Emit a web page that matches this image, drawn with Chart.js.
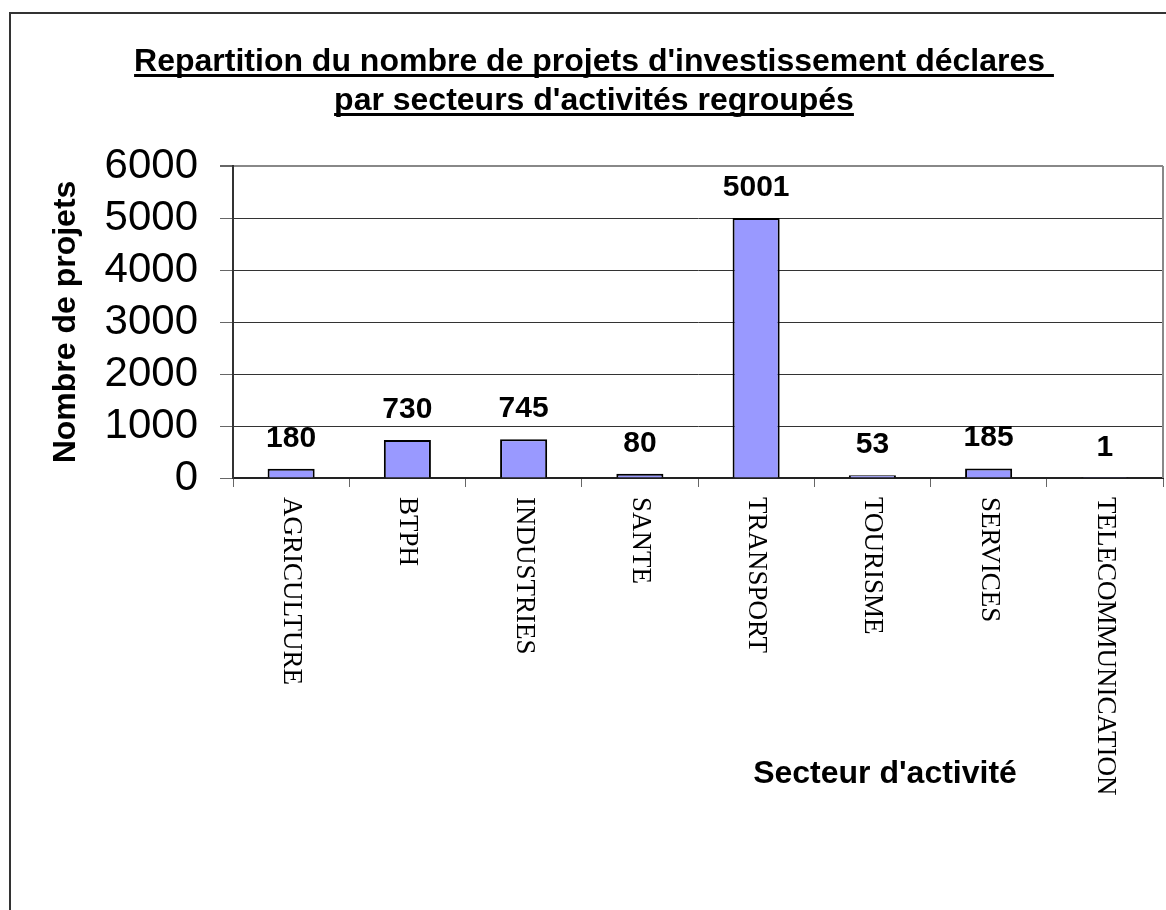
<!DOCTYPE html>
<html>
<head>
<meta charset="utf-8">
<script src="https://cdn.jsdelivr.net/npm/chart.js@4.4.1/dist/chart.umd.min.js"></script>
<style>
html,body{margin:0;padding:0;background:#fff;}
canvas{display:block;}
</style>
</head>
<body>
<canvas id="c" width="1166" height="910"></canvas>
<script>
const titleLines = ["Repartition du nombre de projets d'investissement déclares ", "par secteurs d'activités regroupés"];
const categories = ["AGRICULTURE", "BTPH", "INDUSTRIES", "SANTE", "TRANSPORT", "TOURISME", "SERVICES", "TELECOMMUNICATION"];
const projectCounts = [180, 730, 745, 80, 5001, 53, 185, 1];
const yAxisTitle = "Nombre de projets";
const xAxisTitle = "Secteur d'activité";
const yTickValues = [0, 1000, 2000, 3000, 4000, 5000, 6000];

const SANS = '"Liberation Sans", Arial, sans-serif';
const SERIF = '"Liberation Serif", "Times New Roman", serif';

const decorPlugin = {
  id: 'decor',
  beforeDraw(chart) {
    const ctx = chart.ctx;
    ctx.save();
    ctx.fillStyle = '#fff';
    ctx.fillRect(0, 0, chart.width, chart.height);
    ctx.strokeStyle = '#333';
    ctx.lineWidth = 2;
    ctx.beginPath();
    ctx.moveTo(10, chart.height);
    ctx.lineTo(10, 13);
    ctx.lineTo(chart.width, 13);
    ctx.stroke();
    ctx.restore();
  },
  afterDraw(chart) {
    const ctx = chart.ctx;
    const area = chart.chartArea;
    ctx.save();
    ctx.strokeStyle = '#888';
    ctx.lineWidth = 2;
    ctx.beginPath();
    ctx.moveTo(area.right, area.top);
    ctx.lineTo(area.right, area.bottom);
    ctx.stroke();

    // title
    ctx.fillStyle = '#000';
    ctx.font = 'bold 32px ' + SANS;
    ctx.textAlign = 'center';
    ctx.textBaseline = 'alphabetic';
    const cx = 594;
    const baselines = [71, 110];
    titleLines.forEach((t, i) => {
      ctx.fillText(t, cx, baselines[i]);
      const w = ctx.measureText(t).width;
      ctx.fillRect(cx - w / 2, baselines[i] + 3, w, 3);
    });

    // y axis title
    ctx.save();
    ctx.translate(66, (area.top + area.bottom) / 2);
    ctx.rotate(-Math.PI / 2);
    ctx.font = 'bold 32px ' + SANS;
    ctx.textAlign = 'center';
    ctx.textBaseline = 'middle';
    ctx.fillText(yAxisTitle, 0, 0);
    ctx.restore();

    // x category labels, rotated clockwise
    const xs = chart.scales.x;
    ctx.font = '27px ' + SERIF;
    ctx.textAlign = 'left';
    ctx.textBaseline = 'middle';
    categories.forEach((c, i) => {
      const x = xs.getPixelForValue(i);
      ctx.save();
      ctx.translate(x, xs.top + 19);
      ctx.rotate(Math.PI / 2);
      ctx.fillText(c, 0, 0);
      ctx.restore();
    });

    // x axis title
    ctx.font = 'bold 32px ' + SANS;
    ctx.textAlign = 'center';
    ctx.textBaseline = 'alphabetic';
    ctx.fillText(xAxisTitle, 885, 783);
    ctx.restore();
  },
  afterDatasetsDraw(chart) {
    const ctx = chart.ctx;
    const meta = chart.getDatasetMeta(0);
    ctx.save();
    ctx.fillStyle = '#000';
    ctx.font = 'bold 30px ' + SANS;
    ctx.textAlign = 'center';
    ctx.textBaseline = 'alphabetic';
    meta.data.forEach((bar, i) => {
      ctx.fillText(String(projectCounts[i]), bar.x, bar.y - 22);
    });
    ctx.restore();
  }
};

new Chart(document.getElementById('c'), {
  type: 'bar',
  data: {
    labels: categories,
    datasets: [{
      data: projectCounts,
      backgroundColor: '#9999FF',
      borderColor: '#000',
      borderWidth: 2,
      barPercentage: 0.405,
      categoryPercentage: 1
    }]
  },
  options: {
    responsive: false,
    animation: false,
    layout: { padding: { top: 166, left: 0, right: 3, bottom: 0 } },
    plugins: { legend: { display: false }, title: { display: false }, tooltip: { enabled: false } },
    scales: {
      x: {
        offset: true,
        ticks: { display: false },
        grid: { display: true, drawOnChartArea: false, drawTicks: true, tickLength: 9, tickColor: '#666', offset: true },
        border: { display: true, color: '#222', width: 2 },
        afterFit(scale) { scale.height = 432; }
      },
      y: {
        min: 0,
        max: 6000,
        afterBuildTicks(scale) { scale.ticks = yTickValues.map(v => ({ value: v })); },
        ticks: {
          autoSkip: false,
          font: { family: SANS, size: 42 },
          color: '#000',
          padding: 22,
          callback: (v) => String(v)
        },
        grid: {
          color: (c) => (c.tick && c.tick.value === 6000 ? '#888' : '#333'),
          lineWidth: (c) => (c.tick && c.tick.value === 6000 ? 2 : 1),
          tickLength: 13,
          tickColor: '#666'
        },
        border: { display: true, color: '#333', width: 2 },
        afterFit(scale) { scale.width = 233; }
      }
    }
  },
  plugins: [decorPlugin]
});
</script>
</body>
</html>
